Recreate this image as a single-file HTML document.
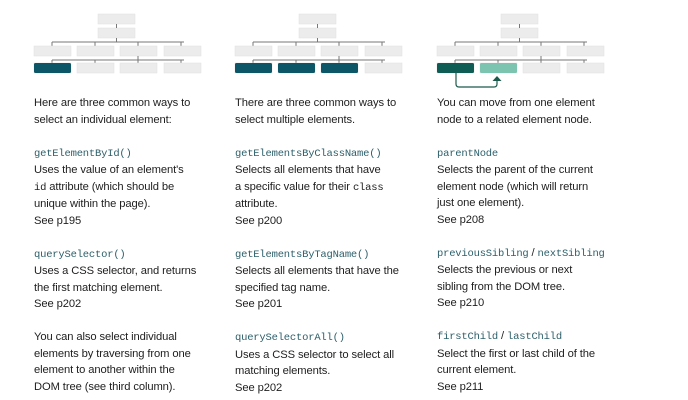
<!DOCTYPE html>
<html><head><meta charset="utf-8"><style>
body{margin:0;width:688px;height:400px;background:#fff;position:relative;overflow:hidden}
.col{position:absolute;top:95px;font-family:"Liberation Sans",sans-serif;font-size:11.2px;line-height:16.5px;color:#1e1e1e;letter-spacing:-0.1px;white-space:nowrap}
code{font-family:"Liberation Mono","DejaVu Sans Mono",monospace;font-size:10.5px;color:#2d5f6a;letter-spacing:-0.2px}
.b{color:#222}
svg{position:absolute;left:0;top:0}
</style></head><body>
<svg width="688" height="95">
<defs>
<g id="tree">
<rect x="64" y="14" width="37" height="10" fill="#ececec" stroke="#e0e0e0" stroke-width="0.5"/>
<rect x="64" y="28" width="37" height="10" fill="#ececec" stroke="#e0e0e0" stroke-width="0.5"/>
<line x1="82.5" y1="24" x2="82.5" y2="28" stroke="#777"/>
<line x1="82.5" y1="38" x2="82.5" y2="42" stroke="#777"/>
<line x1="18" y1="42" x2="150" y2="42" stroke="#777"/>
<line x1="18" y1="42" x2="18" y2="46" stroke="#777"/>
<line x1="61" y1="42" x2="61" y2="46" stroke="#777"/>
<line x1="104" y1="42" x2="104" y2="46" stroke="#777"/>
<line x1="147" y1="42" x2="147" y2="46" stroke="#777"/>
<rect x="0" y="46" width="37" height="10" fill="#ececec" stroke="#e0e0e0" stroke-width="0.5"/>
<rect x="43" y="46" width="37" height="10" fill="#ececec" stroke="#e0e0e0" stroke-width="0.5"/>
<rect x="86" y="46" width="37" height="10" fill="#ececec" stroke="#e0e0e0" stroke-width="0.5"/>
<rect x="130" y="46" width="37" height="10" fill="#ececec" stroke="#e0e0e0" stroke-width="0.5"/>
<line x1="104" y1="56" x2="104" y2="60" stroke="#777"/>
<line x1="18" y1="60" x2="150" y2="60" stroke="#777"/>
<line x1="18" y1="60" x2="18" y2="63" stroke="#777"/>
<line x1="61" y1="60" x2="61" y2="63" stroke="#777"/>
<line x1="104" y1="60" x2="104" y2="63" stroke="#777"/>
<line x1="147" y1="60" x2="147" y2="63" stroke="#777"/>
<rect x="0" y="63" width="37" height="10" fill="#ececec" stroke="#e0e0e0" stroke-width="0.5"/>
<rect x="43" y="63" width="37" height="10" fill="#ececec" stroke="#e0e0e0" stroke-width="0.5"/>
<rect x="86" y="63" width="37" height="10" fill="#ececec" stroke="#e0e0e0" stroke-width="0.5"/>
<rect x="130" y="63" width="37" height="10" fill="#ececec" stroke="#e0e0e0" stroke-width="0.5"/>
</g>
</defs>
<g transform="translate(34,0)"><use href="#tree"/>
<rect x="0" y="63" width="37" height="10" rx="1.5" fill="#0d5667"/></g>
<g transform="translate(235,0)"><use href="#tree"/>
<rect x="0" y="63" width="37" height="10" rx="1.5" fill="#0d5667"/>
<rect x="43" y="63" width="37" height="10" rx="1.5" fill="#0d5667"/>
<rect x="86" y="63" width="37" height="10" rx="1.5" fill="#0d5667"/></g>
<g transform="translate(437,0)"><use href="#tree"/>
<rect x="0" y="63" width="37" height="10" rx="1.5" fill="#0f5c55"/>
<rect x="43" y="63" width="37" height="10" rx="1.5" fill="#7cc4b0"/>
<path d="M19 73 V84 Q19 87 22 87 H57 Q60 87 60 84 V80" fill="none" stroke="#1a5a4c" stroke-width="1.2"/>
<path d="M55.5 81 L60 76 L64.5 81 Z" fill="#1a5a4c"/></g>
</svg>
<div class="col" style="left:34px">Here are three common ways to<br>select an individual element:<br><br><code>getElementById()</code><br>Uses the value of an element's<br><code class="b">id</code> attribute (which should be<br>unique within the page).<br>See p195<br><br><code>querySelector()</code><br>Uses a CSS selector, and returns<br>the first matching element.<br>See p202<br><br>You can also select individual<br>elements by traversing from one<br>element to another within the<br>DOM tree (see third column).</div>
<div class="col" style="left:235px">There are three common ways to<br>select multiple elements.<br><br><code>getElementsByClassName()</code><br>Selects all elements that have<br>a specific value for their <code class="b">class</code><br>attribute.<br>See p200<br><br><code>getElementsByTagName()</code><br>Selects all elements that have the<br>specified tag name.<br>See p201<br><br><code>querySelectorAll()</code><br>Uses a CSS selector to select all<br>matching elements.<br>See p202</div>
<div class="col" style="left:437px">You can move from one element<br>node to a related element node.<br><br><code>parentNode</code><br>Selects the parent of the current<br>element node (which will return<br>just one element).<br>See p208<br><br><code>previousSibling</code> / <code>nextSibling</code><br>Selects the previous or next<br>sibling from the DOM tree.<br>See p210<br><br><code>firstChild</code> / <code>lastChild</code><br>Select the first or last child of the<br>current element.<br>See p211</div>
</body></html>
